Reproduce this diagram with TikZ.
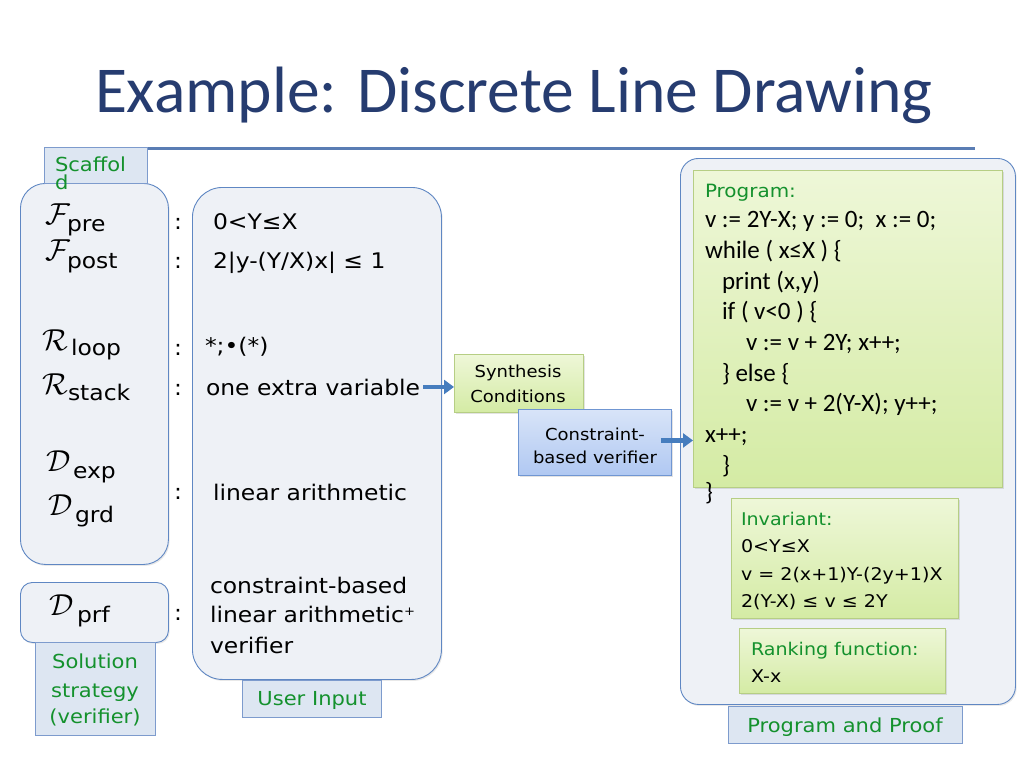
\documentclass[tikz,border=0pt]{standalone}
\usepackage{fontspec}
\usepackage{graphicx}
\setmainfont{DejaVu Sans}
\newfontfamily\comicfont[FakeStretch=1.09]{DejaVu Sans}
\newfontfamily\progfont{Carlito}
\newfontfamily\titlefont{Carlito}
\usetikzlibrary{arrows.meta,shadows,calc}
\definecolor{titleblue}{RGB}{38,60,112}
\definecolor{rulecol}{RGB}{90,125,180}
\definecolor{panelfill}{RGB}{238,241,246}
\definecolor{panelline}{RGB}{95,135,195}
\definecolor{labfill}{RGB}{221,230,242}
\definecolor{labline}{RGB}{125,155,205}
\definecolor{greentext}{RGB}{20,145,45}
\definecolor{gtop}{RGB}{238,247,216}
\definecolor{gbot}{RGB}{212,235,164}
\definecolor{gline}{RGB}{182,206,132}
\definecolor{btop}{RGB}{216,228,248}
\definecolor{bbot}{RGB}{176,200,242}
\definecolor{bline}{RGB}{112,150,210}
\definecolor{arrowcol}{RGB}{70,125,190}
\newcommand\bigcal[1]{\scalebox{1.22}{$\mathcal{#1}$}}
\begin{document}
\begin{tikzpicture}[x=1pt,y=-1pt,
  txt/.style={anchor=base west, inner sep=0pt, outer sep=0pt},
  ctxt/.style={anchor=base, inner sep=0pt, outer sep=0pt},
  body/.style={font=\comicfont\fontsize{21.5}{24}\selectfont},
  small/.style={font=\comicfont\fontsize{17.5}{20}\selectfont},
  labtxt/.style={font=\comicfont\fontsize{19.3}{22}\selectfont, text=greentext},
  prog/.style={font=\progfont\fontsize{25}{28}\selectfont},
  callet/.style={txt, font=\fontsize{24.88}{28}\selectfont},
  panel/.style={draw=panelline, line width=0.9pt, fill=panelfill, anchor=north west, inner sep=0pt,
    drop shadow={shadow xshift=1.2pt, shadow yshift=-1.5pt, opacity=0.18}},
  labbox/.style={draw=labline, line width=0.9pt, fill=labfill, anchor=north west, inner sep=0pt},
  gbox/.style={draw=gline, line width=0.9pt, top color=gtop, bottom color=gbot, anchor=north west, inner sep=0pt,
    drop shadow={shadow xshift=1.5pt, shadow yshift=-1.5pt, opacity=0.22}},
  bbox/.style={draw=bline, line width=0.9pt, top color=btop, bottom color=bbot, anchor=north west, inner sep=0pt,
    drop shadow={shadow xshift=1.5pt, shadow yshift=-1.5pt, opacity=0.22}},
  arr/.style={draw=arrowcol, line width=4.5pt, -{Triangle[length=10pt,width=14pt]}},
]
\useasboundingbox[fill=white] (0,0) rectangle (1024,768);

% title and rule
\node[txt, text=titleblue, font=\titlefont\fontsize{65.5}{66}\selectfont] (title) at (95,112) {Example: Discrete Line Drawing};
\coordinate (r1) at (50,148);
\coordinate (r2) at (975,148);
\draw[rulecol, line width=3pt] (r1) -- (r2);

% panels
\node[panel, rounded corners=25pt, minimum width=148, minimum height=381] (scafpanel) at (20,183) {};
\node[panel, rounded corners=30pt, minimum width=249, minimum height=492] (userpanel) at (192,187) {};
\node[panel, rounded corners=12pt, minimum width=148, minimum height=60] (prfpanel) at (20,582) {};
\node[panel, rounded corners=18pt, minimum width=335, minimum height=546] (pppanel) at (680,158) {};

% label boxes
\node[labbox, minimum width=103, minimum height=36] (scaflab) at (44,147) {};
\node[labbox, minimum width=120, minimum height=93] (sollab) at (35,642) {};
\node[labbox, minimum width=139, minimum height=37] (userlab) at (242,680) {};
\node[labbox, minimum width=234, minimum height=37] (pplab) at (728,706) {};

\node[txt, labtxt] (scaf1) at (55,171) {Scaffol};
\node[txt, labtxt] (scaf2) at (55,189) {d};
\node[ctxt, labtxt] (sol1) at (95,668) {Solution};
\node[ctxt, labtxt] (sol2) at (95,697) {strategy};
\node[ctxt, labtxt] (sol3) at (95,723) {(verifier)};
\node[ctxt, labtxt] (usr) at (312,705) {User Input};
\node[ctxt, labtxt] (ppt) at (845,732) {Program and Proof};

% left calligraphic labels
\node[callet] (Fa) at (45,224) {\bigcal{F}};
\node[txt, body] (Fas) at (67,231) {pre};
\node[callet] (Fb) at (45,260) {\bigcal{F}};
\node[txt, body] (Fbs) at (67,268) {post};
\node[callet] (Ra) at (42,350) {\bigcal{R}};
\node[txt, body] (Ras) at (71,355) {loop};
\node[callet] (Rb) at (42,394) {\bigcal{R}};
\node[txt, body] (Rbs) at (68,400) {stack};
\node[callet] (Da) at (46,471) {\bigcal{D}};
\node[txt, body] (Das) at (73,478) {exp};
\node[callet] (Db) at (48,515) {\bigcal{D}};
\node[txt, body] (Dbs) at (75,522) {grd};
\node[callet] (Dc) at (49,615) {\bigcal{D}};
\node[txt, body] (Dcs) at (77,622) {prf};

% colons
\foreach \yy/\nm in {229/c1,268/c2,355/c3,395/c4,499/c5,620/c6}
  \node[ctxt, body] (\nm) at (178,\yy) {:};

% user input texts
\node[txt, body] (u1) at (213,229) {0<Y≤X};
\node[txt, body] (u2) at (213,268) {2|y-(Y/X)x| ≤ 1};
\node[txt, body] (u3) at (205,353) {*;•(*)};
\node[txt, body] (u4) at (206,395) {one extra variable};
\node[txt, body] (u5) at (213,500) {linear arithmetic};
\node[txt, body] (u6) at (210,593) {constraint-based};
\node[txt, body] (u7) at (210,622) {linear arithmetic\raisebox{7pt}{\fontsize{12}{12}\selectfont +}};
\node[txt, body] (u8) at (210,653) {verifier};

% synthesis and verifier
\node[gbox, minimum width=129, minimum height=58] (syn) at (454,354) {};
\node[ctxt, font=\comicfont\fontsize{16.5}{18}\selectfont] (syn1) at (518,377) {Synthesis};
\node[ctxt, font=\comicfont\fontsize{16.5}{18}\selectfont] (syn2) at (518,402) {Conditions};
\node[bbox, minimum width=153, minimum height=66] (cv) at (518,409) {};
\node[ctxt, font=\comicfont\fontsize{16.5}{18}\selectfont] (cv1) at (595,440) {Constraint-};
\node[ctxt, font=\comicfont\fontsize{16.5}{18}\selectfont] (cv2) at (595,463) {based verifier};

% program and proof
\node[gbox, minimum width=309, minimum height=317] (progbox) at (693,170) {};
\node[gbox, minimum width=227, minimum height=120] (invbox) at (731,498) {};
\node[gbox, minimum width=206, minimum height=65] (rankbox) at (739,628) {};

\node[txt, labtxt, font=\comicfont\fontsize{18.3}{20}\selectfont] (p0) at (705,197) {Program:};
\node[txt, prog] (p1) at (705,227) {v := 2Y-X; y := 0;\ \ x := 0;};
\node[txt, prog] (p2) at (705,258) {while ( x≤X ) \{};
\node[txt, prog] (p3) at (722,289) {print (x,y)};
\node[txt, prog] (p4) at (722,319) {if ( v<0 ) \{};
\node[txt, prog] (p5) at (746,350) {v := v + 2Y; x++;};
\node[txt, prog] (p6) at (722,381) {\} else \{};
\node[txt, prog] (p7) at (746,411) {v := v + 2(Y-X); y++;};
\node[txt, prog] (p8) at (705,442) {x++;};
\node[txt, prog] (p9) at (722,473) {\}};
\node[txt, prog] (p10) at (705,500) {\}};

\node[txt, small, text=greentext] (i0) at (741,525) {Invariant:};
\node[txt, small] (i1) at (741,552) {0<Y≤X};
\node[txt, small] (i2) at (741,580) {v = 2(x+1)Y-(2y+1)X};
\node[txt, small] (i3) at (741,607) {2(Y-X) ≤ v ≤ 2Y};

\node[txt, small, text=greentext] (k0) at (751,655) {Ranking function:};
\node[txt, small] (k1) at (751,682) {X-x};

% arrows
\draw[arr] ([xshift=3pt]u4.east) -- (u4.east -| syn.west);
\coordinate (a2s) at ($(cv.east)+(-11,-2)$);
\draw[arr] (a2s) -- (a2s -| progbox.west);
\end{tikzpicture}
\end{document}
